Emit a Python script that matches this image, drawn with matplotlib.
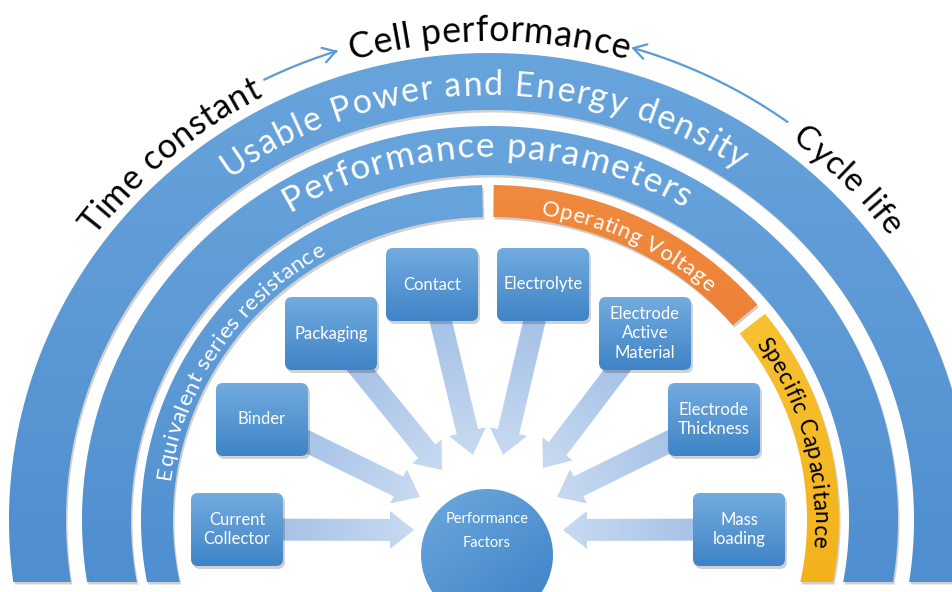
import numpy as np
import matplotlib
matplotlib.use("Agg")
import matplotlib.pyplot as plt
from matplotlib.patches import Polygon, FancyBboxPatch, Circle, FancyArrow, FancyArrowPatch
from matplotlib.path import Path
from matplotlib.colors import LinearSegmentedColormap
from matplotlib.font_manager import FontProperties, findfont
from matplotlib.ft2font import FT2Font

# ---- content ----
outcome_labels = ["Time constant", "Cell performance", "Cycle life"]
band_labels = ["Usable Power and Energy density", "Performance parameters"]
param_labels = ["Equivalent series resistance", "Operating Voltage", "Specific Capacitance"]
factor_labels = ["Current\nCollector", "Binder", "Packaging", "Contact", "Electrolyte",
                 "Electrode\nActive\nMaterial", "Electrode\nThickness", "Mass\nloading"]
center_label = "Performance\nFactors"

# ---- layout (pixel space) ----
box_xy = [(191, 493), (216, 383), (285, 297), (386, 248), (497, 248),
          (599, 297), (668, 383), (693, 493)]
arrow_tip = [(414, 530), (420, 497), (442, 470), (473, 455), (503, 455),
             (543, 468), (557, 497), (563, 530)]
BW, BH = 92, 73

W, H = 953, 592
CX, CY = 490, 520      # centre of the arcs
AOFF = 14              # horizontal radius = vertical radius + AOFF
BOTTOM = 582
FONT = "Lato"

fig = plt.figure(figsize=(W / 100, H / 100), dpi=100)
ax = fig.add_axes([0, 0, 1, 1])
ax.set_xlim(0, W)
ax.set_ylim(H, 0)
ax.axis("off")


def ell(b, th):
    t = np.radians(th)
    return CX + (b + AOFF) * np.cos(t), CY - b * np.sin(t)


def grad_fill(patch, bbox, c0, c1, p0, p1, z):
    patch.set_facecolor("none")
    patch.set_edgecolor("none")
    ax.add_patch(patch)
    x0, x1, y0, y1 = bbox
    X, Y = np.meshgrid(np.linspace(x0, x1, 120), np.linspace(y0, y1, 120))
    d = np.subtract(p1, p0).astype(float)
    t = ((X - p0[0]) * d[0] + (Y - p0[1]) * d[1]) / (d @ d)
    cm = LinearSegmentedColormap.from_list("g", [c0, c1])
    im = ax.imshow(np.clip(t, 0, 1), cmap=cm, vmin=0, vmax=1, extent=(x0, x1, y1, y0),
                   origin="upper", interpolation="bilinear", aspect="auto", zorder=z)
    im.set_clip_path(patch)


def bottom_angle(b, side):
    a = np.degrees(np.arcsin((BOTTOM - CY) / b))
    return 180 + a if side == "left" else -a


def band(b_in, b_out, th_l, th_r, c0, c1, z=1):
    lo = bottom_angle(b_out, "left") if th_l is None else th_l
    li = bottom_angle(b_in, "left") if th_l is None else th_l
    ro = bottom_angle(b_out, "right") if th_r is None else th_r
    ri = bottom_angle(b_in, "right") if th_r is None else th_r
    xo, yo = ell(b_out, np.linspace(lo, ro, 300))
    xi, yi = ell(b_in, np.linspace(ri, li, 300))
    pts = np.column_stack([np.concatenate([xo, xi]), np.concatenate([yo, yi])])
    ax.add_patch(Polygon(pts + [1.5, 2.5], closed=True, fc="#7a7a7a", ec="none", alpha=0.35, zorder=z - 0.5))
    poly = Polygon(pts, closed=True)
    bb = (pts[:, 0].min(), pts[:, 0].max(), pts[:, 1].min(), pts[:, 1].max())
    grad_fill(poly, bb, c0, c1, (CX, CY - b_out), (CX, BOTTOM), z)


def advances(s, prop):
    font = FT2Font(findfont(prop))
    font.set_size(100, 72)
    return np.array([font.load_char(ord(c)).linearHoriAdvance / 65536 / 100 for c in s])


def arc_text(s, b, th0, th1, color, k=1.0):
    # letters fitted between th0 and th1; k < 1 shrinks glyphs and spreads them out
    prop = FontProperties(family=FONT)
    adv = advances(s, prop)
    th = np.linspace(th0, th1, 3000)
    x, y = ell(b, th)
    L = np.concatenate([[0], np.cumsum(np.hypot(np.diff(x), np.diff(y)))])
    px_em = L[-1] / adv.sum() * k
    extra = (L[-1] - px_em * adv.sum()) / max(len(s) - 1, 1)
    size = px_em * 72 / 100
    pos = (np.cumsum(adv) - adv / 2) * px_em + extra * np.arange(len(s))
    for c, p in zip(s, pos):
        if c == " ":
            continue
        t = np.interp(p, L, th)
        px, py = ell(b, t)
        tr = np.radians(t)
        rot = np.degrees(np.arctan2(-b * np.cos(tr), (b + AOFF) * np.sin(tr)))
        ax.text(px, py, c, fontsize=size, color=color, family=FONT, rotation=rot,
                rotation_mode="anchor", ha="center", va="baseline", zorder=8)


# ---- arcs ----
BLUE0, BLUE1 = "#68a4dc", "#4f8ecf"
band(410, 467, None, None, BLUE0, BLUE1)
band(345, 394, None, None, BLUE0, BLUE1)
band(303, 335, None, 91.3, BLUE0, BLUE1)
band(303, 335, 89.4, 40.0, "#f08a3e", "#e8732a")
band(303, 335, 38.0, None, "#fbc93a", "#f2b21c")

arc_text(band_labels[0], 425, 126.5, 55.5, "white", k=0.92)
arc_text(band_labels[1], 363, 122.0, 59.0, "white", k=0.93)
arc_text(param_labels[0], 309, 172.5, 120.5, "white", k=0.95)
arc_text(param_labels[1], 309, 81.0, 47.5, "white", k=0.95)
arc_text(param_labels[2], 309, 34.8, -5.2, "black", k=0.95)

arc_text(outcome_labels[0], 478, 143.5, 117.5, "black", k=0.97)
arc_text(outcome_labels[1], 479, 106.3, 73.9, "black", k=0.97)
arc_text(outcome_labels[2], 479, 52.4, 36.2, "black", k=0.97)

# thin arrows pointing at "Cell performance"
for th0, th1 in [(116.5, 107.5), (54.0, 73.8)]:
    x, y = ell(492, np.linspace(th0, th1, 60))
    ax.add_patch(FancyArrowPatch(path=Path(np.column_stack([x, y])), arrowstyle="->,head_length=0.5,head_width=0.3",
                                 mutation_scale=18, color="#5b9bd5", lw=1.6, zorder=7))

# ---- block arrows from factors to the centre ----
for (bx, by), (tx, ty) in zip(box_xy, arrow_tip):
    sx, sy = bx + BW / 2, by + BH / 2
    arr = FancyArrow(sx, sy, tx - sx, ty - sy, width=22, head_width=38, head_length=24,
                     length_includes_head=True)
    xy = arr.get_xy()
    bb = (xy[:, 0].min(), xy[:, 0].max(), xy[:, 1].min(), xy[:, 1].max())
    grad_fill(arr, bb, "#9bbbe4", "#c8daf1", (sx, sy), (tx, ty), 2)

# ---- factor boxes ----
for (bx, by), lab in zip(box_xy, factor_labels):
    ax.add_patch(FancyBboxPatch((bx + 2, by + 3), BW, BH, boxstyle="round,pad=0,rounding_size=7",
                                fc="black", ec="none", alpha=0.18, zorder=3))
    box = FancyBboxPatch((bx, by), BW, BH, boxstyle="round,pad=0,rounding_size=7")
    grad_fill(box, (bx, bx + BW, by, by + BH), "#72abdf", "#3f84c6", (bx, by), (bx, by + BH), 4)
    ax.text(bx + BW / 2, by + BH / 2, lab, color="white", fontsize=12, family=FONT,
            ha="center", va="center", linespacing=1.3, zorder=6)

# ---- centre circle ----
circ = Circle((487, 555), 66)
grad_fill(circ, (421, 553, 489, 621), "#6aa5dc", "#3f85c8", (440, 495), (530, 615), 5)
ax.text(487, 531, center_label, color="white", fontsize=10.5, family=FONT,
        ha="center", va="center", linespacing=1.9, zorder=6)

ax.set_xlim(0, W)
ax.set_ylim(H, 0)
fig.savefig("out.png", dpi=100, facecolor="white")
